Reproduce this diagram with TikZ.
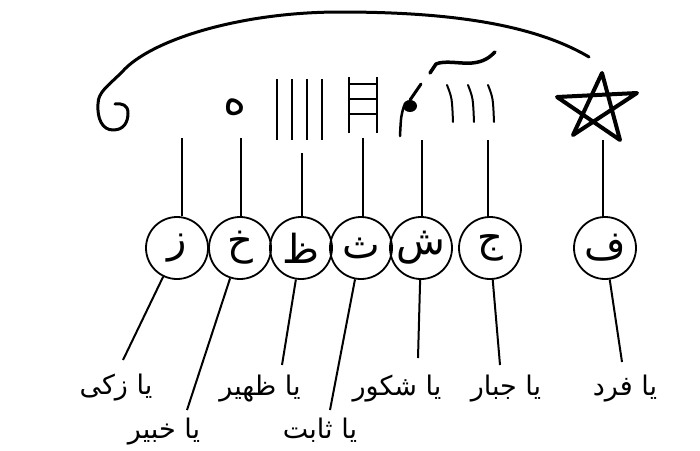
\documentclass[tikz,border=0pt]{standalone}
\usepackage{fontspec}
\newfontfamily\arabicfont[Script=Arabic]{DejaVu Sans}
\TeXXeTstate=1
\newcommand{\ar}[1]{{\arabicfont\beginR #1\endR}}

\begin{document}
\begin{tikzpicture}[x = 1pt, y = -1pt,
    letterbox/.style = {circle, draw, line width=1.8pt, minimum size=62pt, inner sep=0pt, font=\arabicfont\fontsize{40}{40}\selectfont},
    namebox/.style = {anchor=base, inner sep=0pt, font=\arabicfont\fontsize{27}{27}\selectfont},
    wire/.style = {line width=2pt},
    ink/.style = {line width=3pt, line cap=round, line join=round}]
    \useasboundingbox (0,0) rectangle (700,450);
    % letters
    \node[letterbox] (cz) at (177,248) {\ar{ز}};
    \node[letterbox] (ckh) at (240,248) {\ar{خ}};
    \node[letterbox] (czh) at (301,248) {\ar{ظ}};
    \node[letterbox] (cth) at (361,248) {\ar{ث}};
    \node[letterbox] (csh) at (421,248) {\ar{ش}};
    \node[letterbox] (cj) at (490,248) {\ar{ج}};
    \node[letterbox] (cf) at (605,248) {\ar{ف}};
    % names
    \node[namebox] (lz) at (116,394) {\ar{يا زكى}};
    \node[namebox] (lkh) at (164,438) {\ar{يا خبير}};
    \node[namebox] (lzh) at (260,395) {\ar{يا ظهير}};
    \node[namebox] (lth) at (320,438) {\ar{يا ثابت}};
    \node[namebox] (lsh) at (397,395) {\ar{يا شكور}};
    \node[namebox] (lj) at (506,395) {\ar{يا جبار}};
    \node[namebox] (lf) at (625,395) {\ar{يا فرد}};
    % upper ends
    \coordinate (tz) at (182,138);
    \coordinate (tkh) at (241,138);
    \coordinate (tzh) at (302,153);
    \coordinate (tth) at (363,138);
    \coordinate (tsh) at (422,140);
    \coordinate (tj) at (488,140);
    \coordinate (tf) at (603,140);
    % lower ends
    \coordinate (ez) at (123,360);
    \coordinate (ekh) at (187,410);
    \coordinate (ezh) at (282,365);
    \coordinate (eth) at (330,410);
    \coordinate (esh) at (418,358);
    \coordinate (ej) at (500,365);
    \coordinate (ef) at (622,362);
    \foreach \c in {z,kh,zh,th,sh,j,f}
    {
        \draw[wire] (t\c) -- (t\c |- c\c.north);
        \draw[wire] (c\c) -- (e\c);
    }
    % symbols
    \node[font=\arabicfont\fontsize{44}{44}\selectfont, inner sep=0pt] (ha) at (235,107) {\ar{ه}};
    \foreach \x in {277,292,307,322}
        \draw[wire] (\x,79) -- (\x,140);
    \draw[wire] (349,77) -- (349,133) (377,77) -- (377,133);
    \foreach \y in {84,99,114}
        \draw[wire] (349,\y) -- (377,\y);
    \draw[ink] (421,84) -- (410,100);
    \fill (410,106) ellipse (7pt and 6pt);
    \draw[ink, line width=2.5pt] (404,106) .. controls (401,116) .. (400,136);
    \draw[ink, line width=3.5pt] (430,73) -- (436,64) .. controls (445,60) and (460,64) .. (472,63) .. controls (484,62) and (490,57) .. (495,52);
    \foreach \x in {447,468,488}
        \draw[wire, line cap=round] (\x,85) .. controls (\x+5,98) .. (\x+6,122);
    \draw[ink, line width=4pt] (602,73) -- (573,135) -- (637,93) -- (557,97) -- (620,140) -- cycle;
    \draw[ink] (589,57) .. controls (530,22) and (440,12) .. (340,12) .. controls (240,12) and (150,40) .. (122,72)
        .. controls (108,86) and (98,92) .. (98,104) .. controls (97,118) and (102,130) .. (113,130)
        .. controls (124,130) and (128,122) .. (128,113) .. controls (128,105) and (122,103) .. (115,104);
\end{tikzpicture}
\end{document}
